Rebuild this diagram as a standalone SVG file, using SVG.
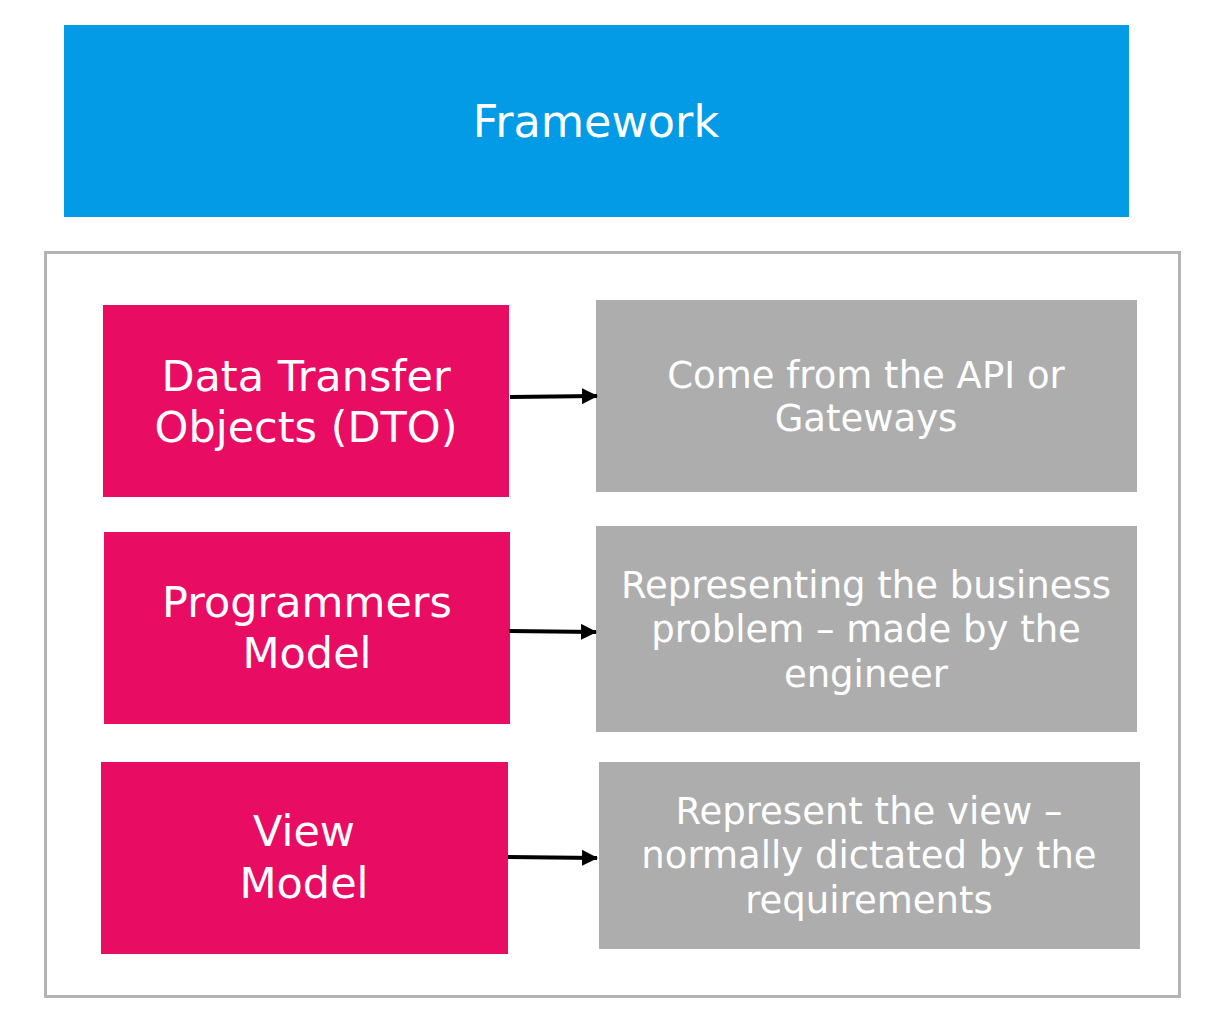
<svg xmlns="http://www.w3.org/2000/svg" width="1217" height="1024" viewBox="0 0 1217 1024">
<defs>
<style>
.pink{fill:#e90c63}
.gray{fill:#adadad}
.t{font-family:"DejaVu Sans","Open Sans",sans-serif;fill:#ffffff;text-anchor:middle}
.big{font-size:43px}
.mid{font-size:37px}
.conn{stroke:#000;stroke-width:4;fill:none}
</style>
<marker id="ah" markerWidth="16" markerHeight="16" refX="15" refY="8" orient="auto" markerUnits="userSpaceOnUse">
<path d="M0,0 L16,8 L0,16 z" fill="#000"/>
</marker>
</defs>
<rect width="1217" height="1024" fill="#fff"/>
<g id="framework">
<rect x="64" y="25" width="1065" height="192" fill="#039be5"/>
<text class="t" x="596" y="137" style="font-size:44.5px">Framework</text>
</g>
<g id="container">
<rect x="45.500" y="252.500" width="1134" height="744" fill="none" stroke="#b3b3b3" stroke-width="3"/>
</g>
<g id="dto">
<rect class="pink" x="103" y="305" width="406" height="192"/>
<text class="t big" x="306" y="391">Data Transfer</text>
<text class="t big" x="306" y="442">Objects (DTO)</text>
</g>
<g id="programmers">
<rect class="pink" x="104" y="532" width="406" height="192"/>
<text class="t big" x="307" y="617">Programmers</text>
<text class="t big" x="307" y="668">Model</text>
</g>
<g id="view">
<rect class="pink" x="101" y="762" width="407" height="192"/>
<text class="t big" x="304" y="846">View</text>
<text class="t big" x="304" y="898">Model</text>
</g>
<g id="api">
<rect class="gray" x="596" y="300" width="541" height="192"/>
<text class="t mid" x="866" y="388">Come from the API or</text>
<text class="t mid" x="866" y="431">Gateways</text>
</g>
<g id="business">
<rect class="gray" x="596" y="526" width="541" height="206"/>
<text class="t mid" x="866" y="598">Representing the business</text>
<text class="t mid" x="866" y="642">problem – made by the</text>
<text class="t mid" x="866" y="687">engineer</text>
</g>
<g id="viewdesc">
<rect class="gray" x="599" y="762" width="541" height="187"/>
<text class="t mid" x="869" y="824">Represent the view –</text>
<text class="t mid" x="869" y="868">normally dictated by the</text>
<text class="t mid" x="869" y="913">requirements</text>
</g>
<g id="connectors">
<line class="conn" x1="510" y1="397" x2="597" y2="396" marker-end="url(#ah)"/>
<line class="conn" x1="509" y1="631" x2="596" y2="632" marker-end="url(#ah)"/>
<line class="conn" x1="508" y1="857" x2="597" y2="858" marker-end="url(#ah)"/>
</g>
</svg>
